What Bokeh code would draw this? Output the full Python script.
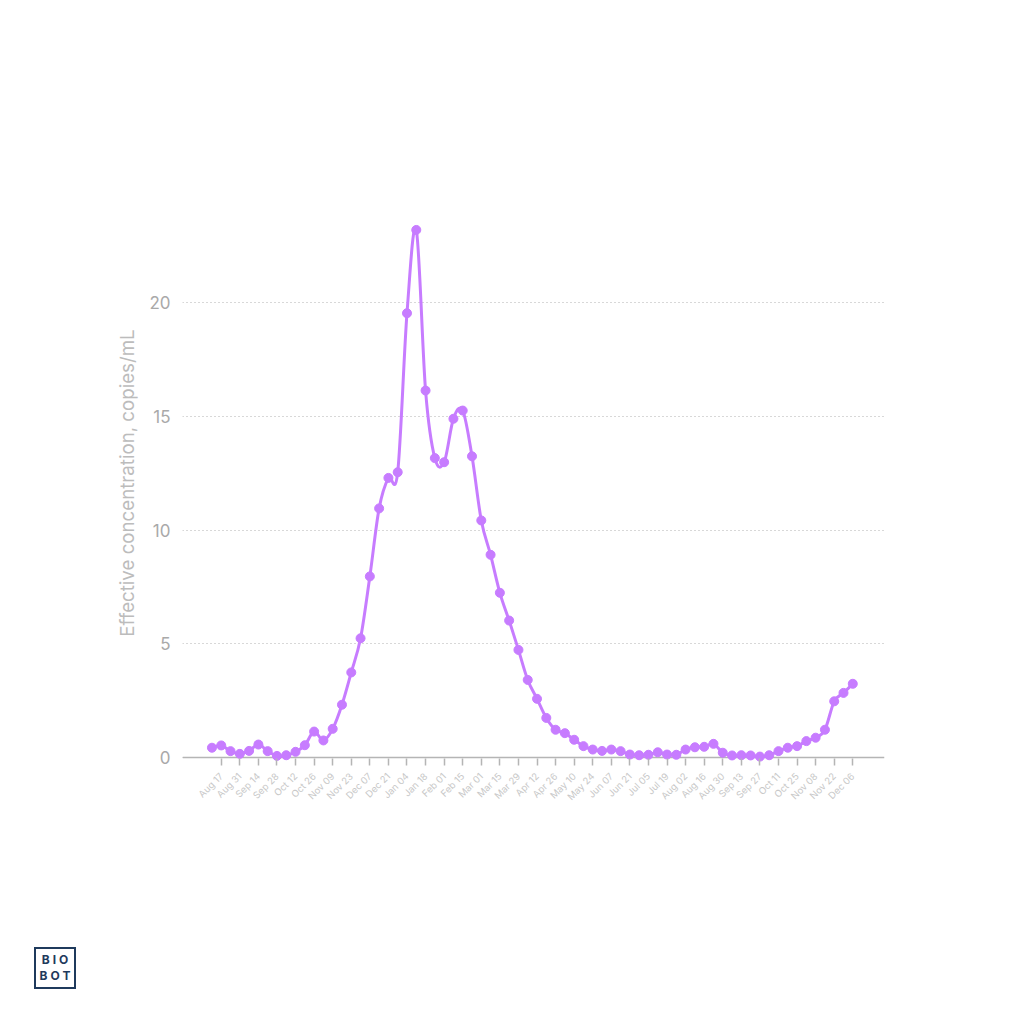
import pandas as pd
from bokeh.plotting import figure
from bokeh.layouts import column
from bokeh.models import Range1d, FixedTicker, DatetimeTickFormatter, Span, Div
from bokeh.embed import file_html
from bokeh.resources import INLINE
import math

# ---------------- data ----------------
dates = [
    "2020-08-10", "2020-08-17", "2020-08-24", "2020-08-31", "2020-09-07", "2020-09-14",
    "2020-09-21", "2020-09-28", "2020-10-05", "2020-10-12", "2020-10-19", "2020-10-26",
    "2020-11-02", "2020-11-09", "2020-11-16", "2020-11-23", "2020-11-30", "2020-12-07",
    "2020-12-14", "2020-12-21", "2020-12-28", "2021-01-04", "2021-01-11", "2021-01-18",
    "2021-01-25", "2021-02-01", "2021-02-08", "2021-02-15", "2021-02-22", "2021-03-01",
    "2021-03-08", "2021-03-15", "2021-03-22", "2021-03-29", "2021-04-05", "2021-04-12",
    "2021-04-19", "2021-04-26", "2021-05-03", "2021-05-10", "2021-05-17", "2021-05-24",
    "2021-05-31", "2021-06-07", "2021-06-14", "2021-06-21", "2021-06-28", "2021-07-05",
    "2021-07-12", "2021-07-19", "2021-07-26", "2021-08-02", "2021-08-09", "2021-08-16",
    "2021-08-23", "2021-08-30", "2021-09-06", "2021-09-13", "2021-09-20", "2021-09-27",
    "2021-10-04", "2021-10-11", "2021-10-18", "2021-10-25", "2021-11-01", "2021-11-08",
    "2021-11-15", "2021-11-22", "2021-11-29", "2021-12-06",
]
concentration = [
    0.43, 0.53, 0.28, 0.16, 0.29, 0.57, 0.28, 0.07, 0.10, 0.25, 0.54, 1.14,
    0.75, 1.26, 2.32, 3.74, 5.24, 7.96, 10.95, 12.29, 12.54, 19.53, 23.19, 16.13,
    13.16, 12.98, 14.89, 15.25, 13.24, 10.42, 8.91, 7.24, 6.02, 4.73, 3.41, 2.58,
    1.74, 1.22, 1.07, 0.78, 0.50, 0.35, 0.29, 0.35, 0.28, 0.13, 0.10, 0.12,
    0.23, 0.13, 0.12, 0.35, 0.45, 0.47, 0.60, 0.21, 0.09, 0.10, 0.09, 0.04,
    0.10, 0.28, 0.43, 0.50, 0.72, 0.87, 1.22, 2.47, 2.84, 3.24,
]
tick_dates = [
    "2020-08-17", "2020-08-31", "2020-09-14", "2020-09-28", "2020-10-12", "2020-10-26",
    "2020-11-09", "2020-11-23", "2020-12-07", "2020-12-21", "2021-01-04", "2021-01-18",
    "2021-02-01", "2021-02-15", "2021-03-01", "2021-03-15", "2021-03-29", "2021-04-12",
    "2021-04-26", "2021-05-10", "2021-05-24", "2021-06-07", "2021-06-21", "2021-07-05",
    "2021-07-19", "2021-08-02", "2021-08-16", "2021-08-30", "2021-09-13", "2021-09-27",
    "2021-10-11", "2021-10-25", "2021-11-08", "2021-11-22", "2021-12-06",
]
y_ticks = [0, 5, 10, 15, 20]

PURPLE = "#C77CFF"
NAVY = "#1f3a5c"
FONT = "Inter"
DAY = 86400000.0

def ms(s):
    return pd.Timestamp(s).value / 1e6

xs = [ms(d) for d in dates]
ys = concentration

# smooth (Catmull-Rom) curve through the data points, as bezier segments
n = len(xs)
x0, y0, x1, y1, cx0, cy0, cx1, cy1 = ([] for _ in range(8))
for i in range(n - 1):
    pm = max(i - 1, 0)
    pp = min(i + 2, n - 1)
    x0.append(xs[i]); y0.append(ys[i])
    x1.append(xs[i + 1]); y1.append(ys[i + 1])
    cx0.append(xs[i] + (xs[i + 1] - xs[pm]) / 6.0)
    cy0.append(ys[i] + (ys[i + 1] - ys[pm]) / 6.0)
    cx1.append(xs[i + 1] - (xs[pp] - xs[i]) / 6.0)
    cy1.append(ys[i + 1] - (ys[pp] - ys[i]) / 6.0)

x_start = ms("2020-08-17") - 29.2 * DAY
x_end = ms("2021-12-06") + 23.9 * DAY

p = figure(
    width=1008, height=930,
    x_axis_type="datetime",
    x_range=Range1d(x_start, x_end),
    y_range=Range1d(-0.3516, 24.484),
    output_backend="svg", toolbar_location=None,
    min_border_left=182, min_border_right=124,
    min_border_top=200, min_border_bottom=165,
)
p.outline_line_color = None
p.background_fill_color = "white"
p.border_fill_color = "white"

# y axis
p.yaxis.ticker = FixedTicker(ticks=y_ticks)
p.yaxis.axis_line_color = None
p.yaxis.major_tick_line_color = None
p.yaxis.minor_tick_line_color = None
p.yaxis.major_tick_in = 0
p.yaxis.major_tick_out = 0
p.yaxis.major_label_standoff = 12
p.yaxis.major_label_text_font = FONT
p.yaxis.major_label_text_font_size = "17px"
p.yaxis.major_label_text_color = "#a9a9a9"
p.yaxis.axis_label = "Effective concentration, copies/mL"
p.yaxis.axis_label_text_font = FONT
p.yaxis.axis_label_text_font_size = "18.7px"
p.yaxis.axis_label_text_font_style = "normal"
p.yaxis.axis_label_text_color = "#bcbcbc"
p.yaxis.axis_label_standoff = 7

# x axis
p.xaxis.ticker = FixedTicker(ticks=[ms(d) for d in tick_dates])
p.xaxis.formatter = DatetimeTickFormatter(
    days="%b %d", months="%b %d", years="%b %d", hours="%b %d", hourmin="%b %d"
)
p.xaxis.axis_line_color = None
p.xaxis.minor_tick_line_color = None
p.xaxis.major_tick_line_color = "#b5b5b5"
p.xaxis.major_tick_line_width = 1.5
p.xaxis.major_tick_in = 7
p.xaxis.major_tick_out = 0
p.xaxis.major_label_orientation = math.pi / 4
p.xaxis.major_label_standoff = 9
p.xaxis.major_label_text_font = FONT
p.xaxis.major_label_text_font_size = "9.5px"
p.xaxis.major_label_text_color = "#c8c8c8"

# grids
p.xgrid.grid_line_color = None
p.ygrid.grid_line_color = "#b0b0b0"
p.ygrid.grid_line_dash = "1 3"
p.ygrid.grid_line_width = 1

zero_line = Span(location=0, dimension="width", line_color="#b5b5b5", line_width=1.5, level="underlay")
p.add_layout(zero_line)

p.bezier(x0=x0, y0=y0, x1=x1, y1=y1, cx0=cx0, cy0=cy0, cx1=cx1, cy1=cy1,
         line_color=PURPLE, line_width=3)
p.scatter(xs, ys, size=9, fill_color=PURPLE, line_color=PURPLE)

# ---------------- logo ----------------
logo_html = (
    '<div style="box-sizing:border-box;width:42px;height:42px;margin-left:29px;margin-top:12px;'
    'border:2.5px solid ' + NAVY + ';display:flex;flex-direction:column;align-items:center;'
    'justify-content:center;font-family:Inter,sans-serif;font-weight:700;font-size:12px;'
    'letter-spacing:3px;line-height:16px;color:' + NAVY + ';">'
    '<span style="padding-left:3px">BIO</span><span style="padding-left:3px">BOT</span></div>'
)
logo = Div(text=logo_html, width=120, height=74)

layout = column(p, logo, spacing=0)
open("out.html", "w").write(file_html(layout, INLINE))
